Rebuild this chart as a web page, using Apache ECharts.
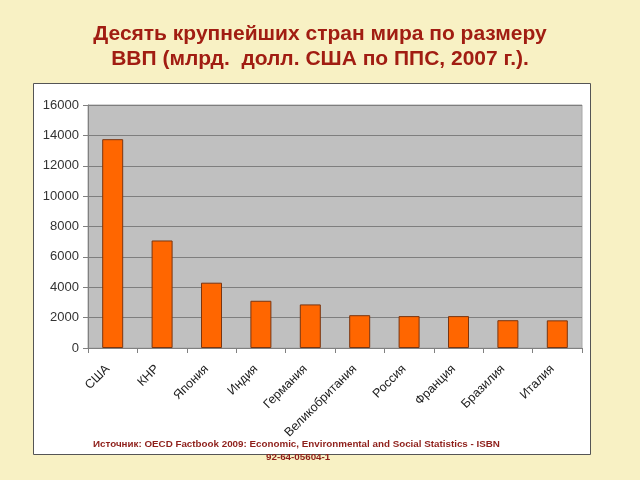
<!DOCTYPE html>
<html>
<head>
<meta charset="utf-8">
<script src="https://cdn.jsdelivr.net/npm/echarts@6/dist/echarts.min.js"></script>
<style>
html,body{margin:0;padding:0;background:#F8F1C4;}
#chart{width:640px;height:480px;}
</style>
</head>
<body>
<div id="chart"></div>
<script>
const categories = ['США','КНР','Япония','Индия','Германия','Великобритания','Россия','Франция','Бразилия','Италия'];
const gdpValues = [13750, 7080, 4300, 3110, 2870, 2160, 2100, 2100, 1830, 1820];
const yTicks = [0, 2000, 4000, 6000, 8000, 10000, 12000, 14000, 16000];
const titleLines = ['Десять крупнейших стран мира по размеру', 'ВВП (млрд.  долл. США по ППС, 2007 г.).'];
const sourceLine1 = 'Источник: OECD Factbook 2009: Economic, Environmental and Social Statistics - ISBN';
const sourceLine2 = '92-64-05604-1';

const chart = echarts.init(document.getElementById('chart'), null, {renderer:'canvas'});
chart.setOption({
  backgroundColor: '#F8F1C4',
  animation: false,
  title: {
    text: titleLines.join('\n'),
    left: 'center',
    top: 17,
    textStyle: {
      color: '#A11D12',
      fontFamily: 'Liberation Sans, Arial, sans-serif',
      fontWeight: 'bold',
      fontSize: 21,
      lineHeight: 25
    }
  },
  graphic: [
    {
      type: 'rect',
      z: -10,
      shape: {x: 33.5, y: 83.5, width: 557, height: 371},
      style: {fill: '#FFFFFF', stroke: '#555555', lineWidth: 1}
    },
    {
      type: 'text',
      z: 10,
      left: 93,
      top: 439,
      style: {
        text: sourceLine1,
        fill: '#8E1F1A',
        font: 'bold 9.8px Liberation Sans, Arial, sans-serif'
      }
    },
    {
      type: 'text',
      z: 10,
      left: 266,
      top: 452,
      style: {
        text: sourceLine2,
        fill: '#8E1F1A',
        font: 'bold 9.8px Liberation Sans, Arial, sans-serif'
      }
    }
  ],
  grid: {
    left: 88, right: 58, top: 105, bottom: 132,
    show: true,
    backgroundColor: '#C0C0C0',
    borderColor: '#A8A8A8',
    borderWidth: 1
  },
  xAxis: {
    type: 'category',
    data: categories,
    boundaryGap: true,
    axisLine: {lineStyle: {color: '#808080', width: 1}},
    axisTick: {show: true, alignWithLabel: false, length: 5, lineStyle: {color: '#808080'}},
    axisLabel: {
      rotate: 45,
      interval: 0,
      margin: 14,
      padding: [0, 7, 0, 0],
      color: '#222222',
      fontSize: 12.5,
      fontFamily: 'Liberation Sans, Arial, sans-serif'
    }
  },
  yAxis: {
    type: 'value',
    min: yTicks[0],
    max: yTicks[yTicks.length - 1],
    interval: yTicks[1] - yTicks[0],
    axisLine: {show: true, lineStyle: {color: '#808080', width: 1}},
    axisTick: {show: true, length: 5, lineStyle: {color: '#808080'}},
    splitLine: {show: true, lineStyle: {color: '#7E7E7E', width: 1}},
    axisLabel: {
      margin: 9,
      color: '#333333',
      fontSize: 13,
      fontFamily: 'Liberation Sans, Arial, sans-serif',
      formatter: function (v) { return String(v); }
    }
  },
  series: [{
    type: 'bar',
    data: gdpValues,
    barWidth: 21,
    itemStyle: {color: '#FF6600', borderColor: '#7A3510', borderWidth: 1}
  }]
});
</script>
</body>
</html>
